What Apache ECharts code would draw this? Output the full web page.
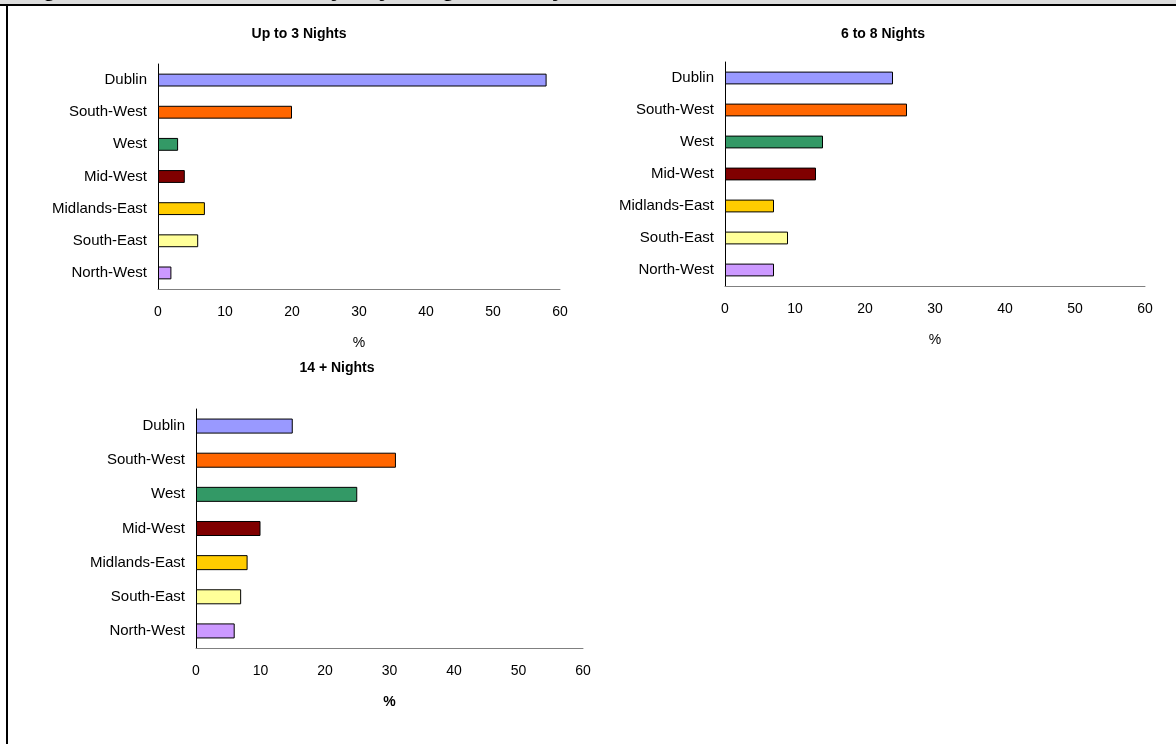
<!DOCTYPE html>
<html>
<head>
<meta charset="utf-8">
<script src="https://cdn.jsdelivr.net/npm/echarts@6/dist/echarts.min.js"></script>
<style>
  html, body { margin: 0; padding: 0; background: #ffffff; }
  #chart { width: 1176px; height: 744px; }
</style>
</head>
<body>
<div id="chart"></div>
<script>
// Regions (top to bottom) and share of holidays (%) for each length-of-stay band
const regions = ['Dublin', 'South-West', 'West', 'Mid-West', 'Midlands-East', 'South-East', 'North-West'];
const upTo3Nights = [58, 20, 3, 4, 7, 6, 2];
const sixTo8Nights = [24, 26, 14, 13, 7, 9, 7];
const fourteenPlusNights = [15, 31, 25, 10, 8, 7, 6];
const panelTitles = ['Up to 3 Nights', '6 to 8 Nights', '14 + Nights'];
const axisMin = 0, axisMax = 60, axisStep = 10;
const figureTitle = 'Figure 10: Overseas Holidays by Length of Stay';

const regionColors = ['#9999FF', '#FF6600', '#339966', '#800000', '#FFCC00', '#FFFF99', '#CC99FF'];
const FONT = 'Liberation Sans, Arial, Helvetica, sans-serif';

const chart = echarts.init(document.getElementById('chart'), null, { renderer: 'canvas' });

// Plot boxes for the three panels
const grids = [
  { left: 158, top: 64, width: 402, height: 225 },
  { left: 725, top: 62, width: 420, height: 224 },
  { left: 196, top: 409, width: 387, height: 239 }
];
const seriesValues = [upTo3Nights, sixTo8Nights, fourteenPlusNights];
const barWidths = ['40%', '40%', '44%'];
const nameBold = [false, false, true];

const xAxes = grids.map((g, i) => ({
  type: 'value', gridIndex: i, min: axisMin, max: axisMax, interval: axisStep,
  splitLine: { show: false },
  axisTick: { show: false },
  axisLine: { show: true, lineStyle: { color: '#808080', width: 1 } },
  axisLabel: { color: '#000', fontFamily: FONT, fontSize: 14, margin: 16 },
  name: '%', nameLocation: 'middle', nameGap: 47,
  nameTextStyle: { color: '#000', fontFamily: FONT, fontSize: 14, fontWeight: nameBold[i] ? 'bold' : 'normal' }
}));

const yAxes = grids.map((g, i) => ({
  type: 'category', gridIndex: i, data: regions, inverse: true,
  axisTick: { show: false },
  axisLine: { show: true, lineStyle: { color: '#000', width: 1 } },
  axisLabel: { color: '#000', fontFamily: FONT, fontSize: 15, margin: 11 }
}));

const series = seriesValues.map((vals, i) => ({
  type: 'bar', xAxisIndex: i, yAxisIndex: i,
  barWidth: barWidths[i],
  data: vals.map((v, k) => ({
    value: v,
    itemStyle: { color: regionColors[k], borderColor: '#000', borderWidth: 1 }
  })),
  silent: true, animation: false
}));

const titleCenters = [[299, 34], [883, 34], [337, 368]];

chart.setOption({
  backgroundColor: '#ffffff',
  animation: false,
  grid: grids.map(g => Object.assign({ containLabel: false }, g)),
  xAxis: xAxes,
  yAxis: yAxes,
  series: series,
  graphic: [
    // page header strip with the figure caption running above the frame
    { type: 'rect', left: 0, top: 0, shape: { width: 1176, height: 5 }, style: { fill: '#dcdcdc' }, z: 1 },
    { type: 'text', x: 21, y: -11, style: { text: figureTitle, font: 'bold 24px ' + FONT, fill: '#000', textAlign: 'left', textVerticalAlign: 'middle' }, z: 2 },
    // frame lines
    { type: 'rect', left: 0, top: 4, shape: { width: 1176, height: 2 }, style: { fill: '#000' }, z: 3 },
    { type: 'rect', left: 6, top: 4, shape: { width: 2, height: 740 }, style: { fill: '#000' }, z: 3 }
  ].concat(panelTitles.map((t, i) => ({
    type: 'text', x: titleCenters[i][0], y: titleCenters[i][1],
    style: { text: t, font: 'bold 14px ' + FONT, fill: '#000', textAlign: 'center', textVerticalAlign: 'middle' }
  })))
});
</script>
</body>
</html>
